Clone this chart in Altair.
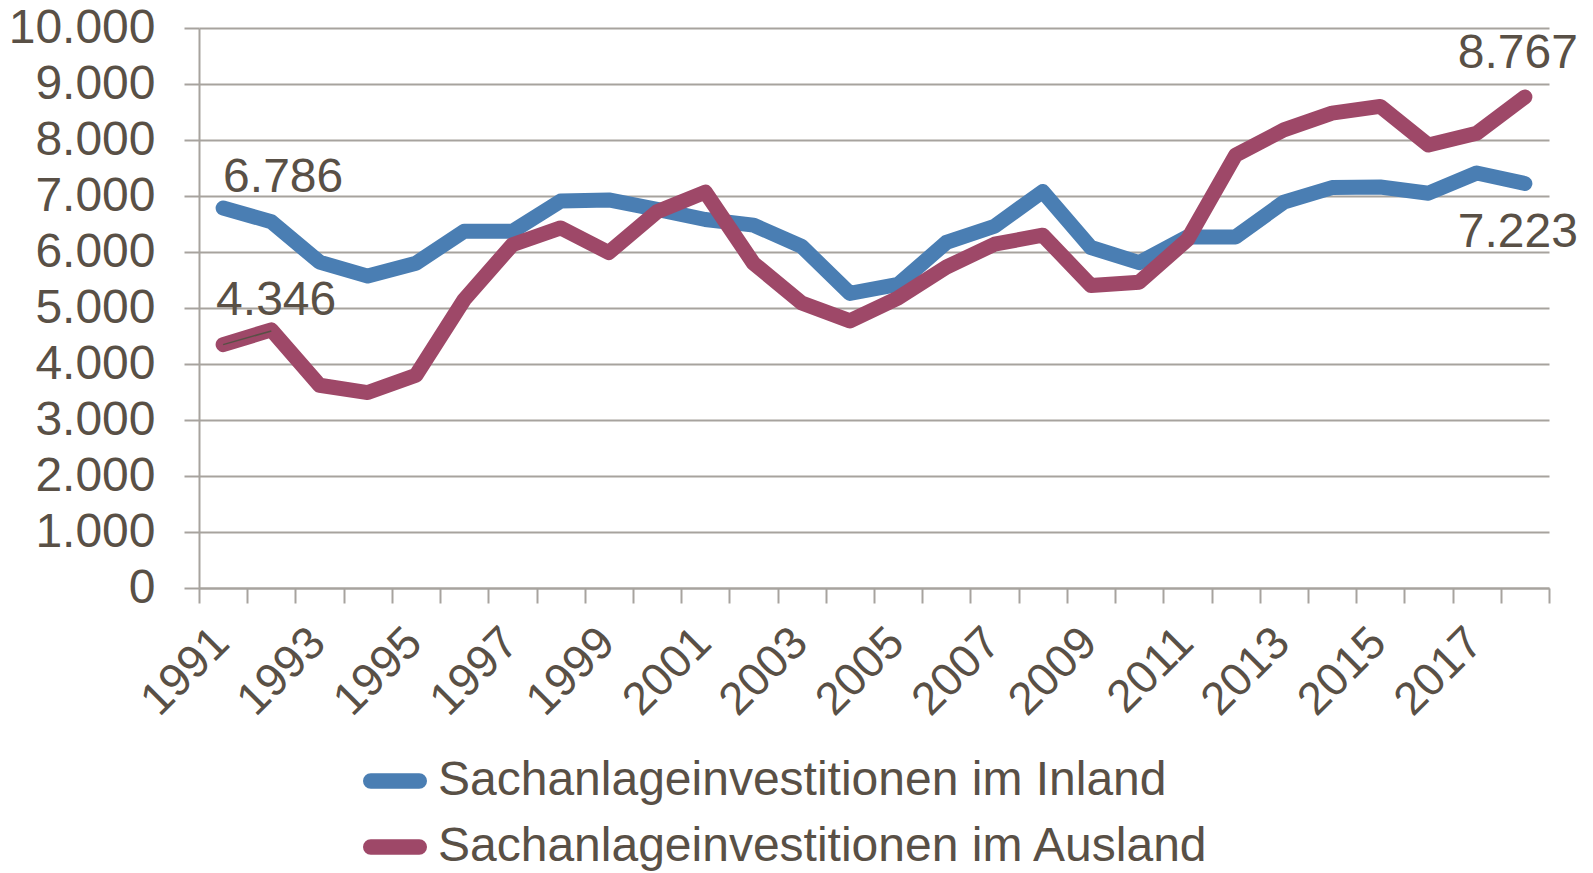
import altair as alt
import pandas as pd

years = [str(y) for y in range(1991, 2019)]
inland = [6786, 6540, 5820, 5570, 5800, 6370, 6370, 6910, 6930, 6760, 6580, 6480,
          6100, 5260, 5420, 6170, 6460, 7080, 6080, 5810, 6270, 6270, 6890, 7150,
          7160, 7050, 7410, 7223]
ausland = [4346, 4610, 3620, 3490, 3800, 5150, 6130, 6430, 5990, 6720, 7070, 5800,
           5090, 4770, 5180, 5730, 6140, 6300, 5400, 5460, 6220, 7730, 8180, 8480,
           8600, 7910, 8120, 8767]
series_names = ["Sachanlageinvestitionen im Inland", "Sachanlageinvestitionen im Ausland"]
series_colors = ["#4a7eb3", "#9e4868"]
y_ticks = list(range(0, 10001, 1000))
leader_years = ["1991", "1992"]
leader_values = [4346, 4590]

TXT = "#595046"
GRID = "#a7a39e"
FONT = "Liberation Sans"

rows = []
for name, vals in zip(series_names, [inland, ausland]):
    for y, v in zip(years, vals):
        rows.append({"year": y, "value": v, "series": name})
df = pd.DataFrame(rows)

def de(v):
    return f"{v:,}".replace(",", ".")

x_enc = alt.X("year:N", bandPosition=0.5,
              scale=alt.Scale(type="band", paddingInner=0, paddingOuter=0, domain=years),
              axis=alt.Axis(title=None, grid=False, tickBand="extent", labelAngle=-45,
                            labelAlign="right", labelBaseline="middle",
                            labelExpr="toNumber(datum.value) % 2 == 1 ? datum.value : ''",
                            tickSize=15, labelPadding=32, labelOffset=-2,
                            labelFontSize=46, labelOverlap=False))
y_enc = alt.Y("value:Q", scale=alt.Scale(domain=[0, 10000], nice=False),
              axis=alt.Axis(title=None, values=y_ticks, grid=True, tickSize=15,
                            labelPadding=29, labelFontSize=48,
                            labelExpr="replace(format(datum.value, ','), ',', '.')"))

capsule = ("M -0.99 -0.01 L 0.99 -0.01 A 0.01 0.01 0 0 1 0.99 0.01 "
           "L -0.99 0.01 A 0.01 0.01 0 0 1 -0.99 -0.01 Z")

lines = alt.Chart(df).mark_line(strokeWidth=15, strokeCap="round", strokeJoin="round").encode(
    x=x_enc, y=y_enc,
    color=alt.Color("series:N", sort=series_names,
                    scale=alt.Scale(domain=series_names, range=series_colors),
                    legend=alt.Legend(orient="none", legendX=164, legendY=721, title=None,
                                      direction="vertical", symbolType=capsule,
                                      symbolSize=2401, symbolStrokeWidth=15,
                                      labelFontSize=48, labelFont=FONT, labelColor=TXT,
                                      labelLimit=0, labelOffset=11, rowPadding=3)),
)

leader_df = pd.DataFrame({"year": leader_years, "value": leader_values})
leader = alt.Chart(leader_df).mark_line(color=TXT, strokeWidth=1.5).encode(
    x=alt.X("year:N", bandPosition=0.5), y="value:Q")

def label_layer(yr, vals, align, dx, dy):
    i = years.index(yr)
    d = pd.DataFrame({"year": [yr], "value": [vals[i]], "label": [de(vals[i])]})
    return alt.Chart(d).mark_text(align=align, baseline="alphabetic", dx=dx, dy=dy,
                                  fontSize=48, font=FONT, color=TXT).encode(
        x=alt.X("year:N", bandPosition=0.5), y="value:Q", text="label:N")

labels = [
    label_layer("1991", inland, "left", 0, -16),
    label_layer("1991", ausland, "left", -7, -30),
    label_layer("2018", ausland, "right", 53, -29),
    label_layer("2018", inland, "right", 53, 63),
]

chart = alt.layer(lines, leader, *labels).properties(
    width=1350, height=560,
    autosize=alt.AutoSizeParams(type="none"),
    padding={"left": 191, "top": 20, "right": 36, "bottom": 285},
).configure_view(strokeWidth=0).configure_axis(
    domainColor=GRID, domainWidth=2, tickColor=GRID, tickWidth=2,
    gridColor=GRID, gridWidth=2, labelFont=FONT, labelColor=TXT,
)

chart.save("out.html", embed_options={"renderer": "svg", "actions": False})
